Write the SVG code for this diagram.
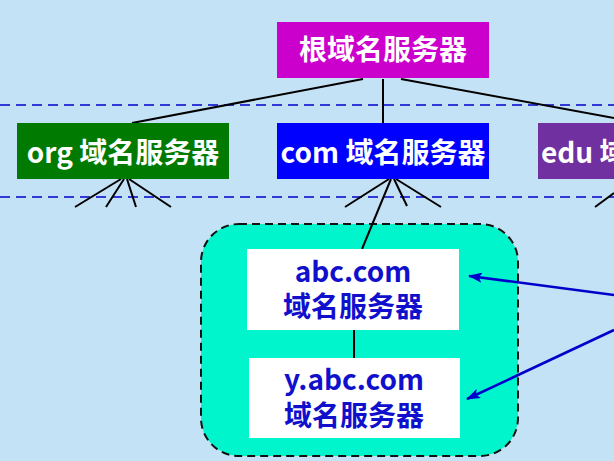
<svg xmlns="http://www.w3.org/2000/svg" width="614" height="461" viewBox="0 0 614 461">
<style>
.lbl{font-family:"Noto Sans CJK SC","Liberation Sans",sans-serif;font-weight:bold;font-size:28px;text-anchor:middle}
.w{fill:#ffffff}
.b{fill:#1010CC}
.ln{stroke:#000000;stroke-width:2;fill:none}
.dash{stroke:#0000CC;stroke-width:1.6;stroke-dasharray:10 6;fill:none}
.arr{stroke:#0000CC;stroke-width:2.5;fill:none;marker-end:url(#ah)}
</style>
<defs>
<marker id="ah" markerUnits="userSpaceOnUse" markerWidth="14" markerHeight="10" refX="13" refY="5" orient="auto">
<path d="M0,0 L14,5 L0,10 L3,5 z" fill="#0000CC"/>
</marker>
</defs>
<rect x="0" y="0" width="614" height="461" fill="#C4E2F5"/>
<g id="levels">
<line class="dash" x1="0" y1="105" x2="614" y2="105"/>
<line class="dash" x1="0" y1="197" x2="614" y2="197"/>
</g>
<g id="group-abc">
<rect x="201" y="224" width="317" height="232" rx="38" ry="38" fill="#00F5CC" stroke="#111111" stroke-width="2" stroke-dasharray="8 5"/>
</g>
<g id="connectors">
<line class="ln" x1="363" y1="79" x2="132" y2="123"/>
<line class="ln" x1="383" y1="79" x2="383" y2="123"/>
<line class="ln" x1="401" y1="79" x2="614" y2="118"/>
<line class="ln" x1="121" y1="179" x2="75" y2="207"/>
<line class="ln" x1="124" y1="179" x2="106" y2="207"/>
<line class="ln" x1="127" y1="179" x2="136" y2="207"/>
<line class="ln" x1="129" y1="179" x2="171" y2="207"/>
<line class="ln" x1="389" y1="179" x2="345" y2="207"/>
<line class="ln" x1="391" y1="179" x2="362" y2="249"/>
<line class="ln" x1="394" y1="179" x2="407" y2="206"/>
<line class="ln" x1="396" y1="179" x2="441" y2="207"/>
<line class="ln" x1="614" y1="193" x2="595" y2="207"/>
<line class="ln" x1="354" y1="330" x2="354" y2="358"/>
<line class="arr" x1="614" y1="295" x2="469" y2="276"/>
<line class="arr" x1="614" y1="330" x2="467" y2="399"/>
</g>
<g id="root">
<rect x="277" y="22" width="212" height="56" fill="#CC00CC"/>
<text class="lbl w" x="383" y="60">根域名服务器</text>
</g>
<g id="org">
<rect x="17" y="123" width="212" height="56" fill="#007A00"/>
<text class="lbl w" x="123" y="163">org 域名服务器</text>
</g>
<g id="com">
<rect x="277" y="123" width="212" height="56" fill="#0000FF"/>
<text class="lbl w" x="383" y="163">com 域名服务器</text>
</g>
<g id="edu">
<rect x="538" y="123" width="212" height="56" fill="#7030A0"/>
<text class="lbl w" x="541" y="163" style="text-anchor:start">edu 域名服务器</text>
</g>
<g id="abc">
<rect x="247" y="249" width="212" height="81" fill="#ffffff"/>
<text class="lbl b" x="353" y="282">abc.com<tspan x="353" y="317">域名服务器</tspan></text>
</g>
<g id="yabc">
<rect x="249" y="358" width="211" height="80" fill="#ffffff"/>
<text class="lbl b" x="354" y="390">y.abc.com<tspan x="354" y="426">域名服务器</tspan></text>
</g>
</svg>
